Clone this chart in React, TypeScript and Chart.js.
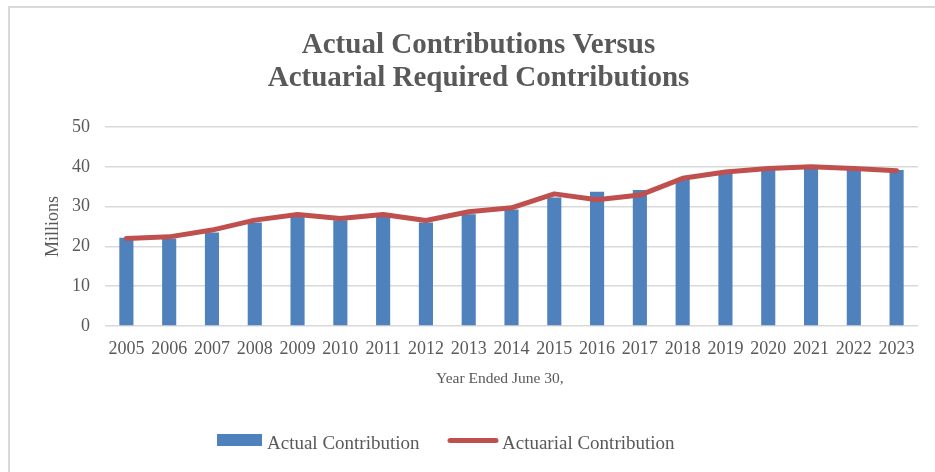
import React, { useEffect, useRef } from "react";
import { Chart, registerables } from "chart.js";

Chart.register(...registerables);

const years = ["2005","2006","2007","2008","2009","2010","2011","2012","2013","2014","2015","2016","2017","2018","2019","2020","2021","2022","2023"];
const actualContribution = [22.2, 22.0, 23.5, 26.0, 27.6, 26.6, 27.5, 26.0, 28.1, 29.3, 32.3, 33.7, 34.2, 36.9, 38.4, 39.2, 39.6, 39.2, 39.2];
const actuarialContribution = [22.0, 22.4, 24.1, 26.6, 28.0, 27.0, 28.0, 26.5, 28.7, 29.7, 33.2, 31.7, 32.9, 37.1, 38.7, 39.6, 40.0, 39.6, 39.0];
const titleLines = ["Actual Contributions Versus", "Actuarial Required Contributions"];
const seriesNames = ["Actual Contribution", "Actuarial Contribution"];
const yAxisTitle = "Millions";
const xAxisTitle = "Year Ended June 30,";

const FONT = "'Liberation Serif', 'Times New Roman', serif";
const TEXT = "#595959";
const BLUE = "#4F81BD";
const RED = "#C0504D";
const GRID = "#d9d9d9";

const legendPlugin = {
  id: "customLegend",
  afterDraw(chart: any) {
    const ctx = chart.ctx;
    const ds = chart.data.datasets;
    ctx.save();
    ctx.font = `19px ${FONT}`;
    ctx.textBaseline = "alphabetic";
    ctx.textAlign = "left";
    // bar item
    ctx.fillStyle = ds[0].backgroundColor;
    ctx.fillRect(217, 434, 45, 12);
    ctx.fillStyle = TEXT;
    ctx.fillText(ds[0].label, 267, 449);
    // line item
    ctx.strokeStyle = ds[1].borderColor;
    ctx.lineWidth = 5;
    ctx.lineCap = "round";
    ctx.beginPath();
    ctx.moveTo(450, 440.5);
    ctx.lineTo(496, 440.5);
    ctx.stroke();
    ctx.fillStyle = TEXT;
    ctx.fillText(ds[1].label, 502, 449);
    ctx.restore();
  },
};

export default function App() {
  const ref = useRef<HTMLCanvasElement | null>(null);
  useEffect(() => {
    if (!ref.current) return;
    const chart = new Chart(ref.current, {
      type: "bar",
      data: {
        labels: years,
        datasets: [
          {
            type: "bar",
            label: seriesNames[0],
            data: actualContribution,
            backgroundColor: BLUE,
            borderWidth: 0,
            barPercentage: 0.33,
            categoryPercentage: 1,
            order: 2,
          },
          {
            type: "line",
            label: seriesNames[1],
            data: actuarialContribution,
            borderColor: RED,
            backgroundColor: RED,
            borderWidth: 5,
            pointRadius: 0,
            tension: 0,
            borderCapStyle: "round",
            borderJoinStyle: "round",
            order: 1,
          } as any,
        ],
      },
      options: {
        responsive: false,
        animation: false,
        layout: { padding: { left: 39, right: 17, top: 0, bottom: 0 } },
        plugins: {
          legend: { display: false },
          tooltip: { enabled: false },
          title: {
            display: true,
            text: titleLines,
            color: TEXT,
            font: { family: FONT, size: 29, weight: "bold", lineHeight: 33 / 29 },
            padding: { top: 29, bottom: 32 },
          },
        },
        scales: {
          x: {
            grid: { display: false, drawTicks: false },
            border: { display: false },
            ticks: {
              color: TEXT,
              font: { family: FONT, size: 18 },
              padding: 12,
              maxRotation: 0,
              autoSkip: false,
            },
            title: {
              display: true,
              text: xAxisTitle + "      ",
              color: TEXT,
              font: { family: FONT, size: 15.5 },
              padding: { top: 0, bottom: 84 },
            },
            afterFit(scale: any) {
              scale.height = 146;
            },
          },
          y: {
            min: 0,
            max: 50,
            ticks: {
              stepSize: 10,
              color: TEXT,
              font: { family: FONT, size: 18 },
              padding: 15,
            },
            grid: { color: GRID, lineWidth: 1.5, drawTicks: false },
            border: { display: false },
            title: {
              display: true,
              text: yAxisTitle,
              color: TEXT,
              font: { family: FONT, size: 18 },
              padding: { top: 3, bottom: 0 },
            },
            afterFit(scale: any) {
              scale.width = 66;
            },
          },
        },
      },
      plugins: [legendPlugin],
    });
    return () => chart.destroy();
  }, []);

  return (
    <div style={{ position: "absolute", left: 0, top: 0, width: 935, height: 472, background: "#fff", overflow: "hidden" }}>
      <div style={{ position: "absolute", left: 8, top: 6, width: 960, height: 500, border: `2px solid ${GRID}`, boxSizing: "border-box" }} />
      <canvas ref={ref} width={935} height={472} style={{ position: "absolute", left: 0, top: 0, width: 935, height: 472 }} />
    </div>
  );
}
